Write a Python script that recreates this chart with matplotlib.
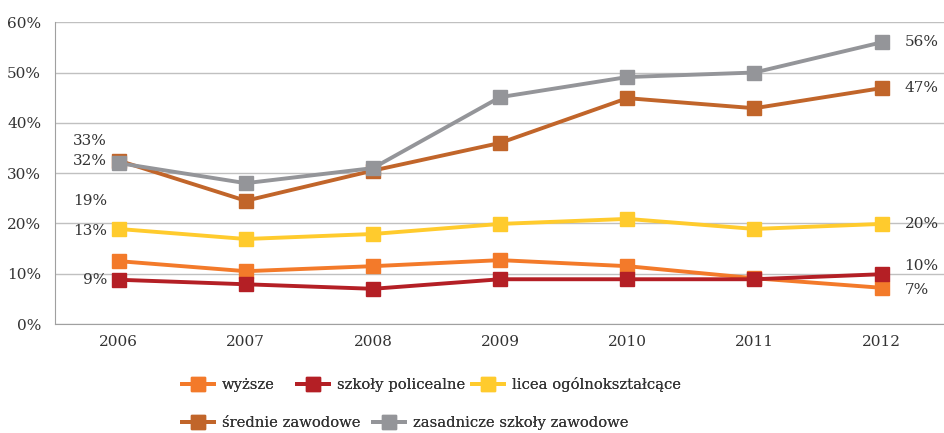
import matplotlib
matplotlib.use("Agg")
import matplotlib.pyplot as plt
from matplotlib.lines import Line2D

years = ["2006", "2007", "2008", "2009", "2010", "2011", "2012"]
wyzsze = [12.5, 10.5, 11.5, 12.7, 11.5, 9.1, 7.2]
policealne = [8.8, 7.9, 7.0, 8.9, 8.9, 8.9, 9.9]
licea = [18.9, 16.9, 17.9, 19.9, 20.9, 18.9, 19.9]
srednie = [32.5, 24.5, 30.5, 36.0, 44.9, 42.9, 46.9]
zasadnicze = [32.0, 28.0, 31.0, 45.1, 49.1, 50.0, 56.0]

names = ["wyższe", "szkoły policealne", "licea ogólnokształcące",
         "średnie zawodowe", "zasadnicze szkoły zawodowe"]
colors = ["#F37A2A", "#B41F25", "#FFCB2D", "#C1652A", "#949599"]
series = [wyzsze, policealne, licea, srednie, zasadnicze]

left_labels = [("33%", 36.4), ("32%", 32.4), ("19%", 24.4), ("13%", 18.4), ("9%", 8.8)]
right_labels = [("56%", 56.0), ("47%", 46.9), ("20%", 19.9), ("10%", 11.6), ("7%", 6.8)]

plt.rcParams['font.family'] = ['DejaVu Serif']
W, H = 944, 433
fig = plt.figure(figsize=(W / 100, H / 100), dpi=100)
ax = fig.add_axes([0.0583, 0.2517, 0.943, 0.697])

x = list(range(len(years)))
handles = []
for name, col, vals in zip(names, colors, series):
    ax.plot(x, vals, color=col, lw=2.8, marker='s', markersize=10, zorder=3)
    handles.append(Line2D([0], [0], color=col, lw=2.8, marker='s', markersize=10))

ax.set_xlim(-0.5, len(years) - 0.5)
ax.set_ylim(0, 60)
ax.set_yticks(range(0, 61, 10))
ax.set_yticklabels([f"{v}%" for v in range(0, 61, 10)])
ax.set_xticks(x)
ax.set_xticklabels(years)
ax.tick_params(axis='both', length=0, labelsize=11, colors='#333333')
ax.tick_params(axis='y', pad=10)
ax.tick_params(axis='x', pad=8)
ax.grid(axis='y', color='#C0C0C0', lw=1)
ax.set_axisbelow(True)
for s in ['top', 'right']:
    ax.spines[s].set_visible(False)
for s in ['left', 'bottom']:
    ax.spines[s].set_color('#A0A0A0')

for t, v in left_labels:
    ax.text(-0.09, v, t, ha='right', va='center', fontsize=11, color='#333333')
for t, v in right_labels:
    ax.text(6.18, v, t, ha='left', va='center', fontsize=11, color='#333333')

# legend entries placed individually (px positions of handle start, row centre y)
legend_pos = [(182, 385), (297, 385), (472, 385), (182, 423), (373, 423)]
for h, n, (px, py) in zip(handles, names, legend_pos):
    leg = fig.legend([h], [n], loc='center left', bbox_to_anchor=(px / W, 1 - py / H),
                     frameon=False, fontsize=10.6, handlelength=2.2, handletextpad=0.5,
                     borderpad=0, borderaxespad=0)
    for txt in leg.get_texts():
        txt.set_color('#333333')
    fig.add_artist(leg)

fig.savefig("out.png", dpi=100)
